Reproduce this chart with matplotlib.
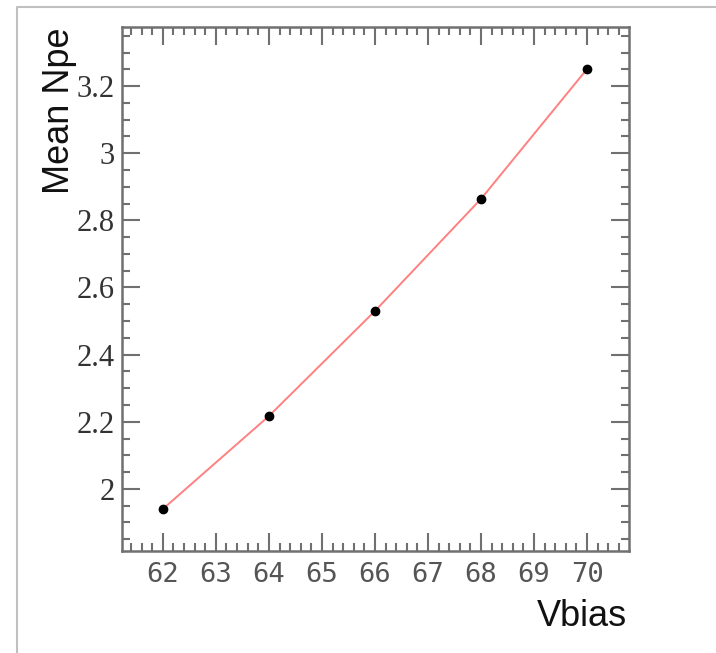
import matplotlib.pyplot as plt
from matplotlib.lines import Line2D
from matplotlib.ticker import MultipleLocator

# bias voltage scan and mean photoelectron count
vbias = [62, 64, 66, 68, 70]
mean_npe = [1.940, 2.217, 2.530, 2.864, 3.251]
xticks = [62, 63, 64, 65, 66, 67, 68, 69, 70]
yticks = [2.0, 2.2, 2.4, 2.6, 2.8, 3.0, 3.2]
ytick_labels = ["2", "2.2", "2.4", "2.6", "2.8", "3", "3.2"]

fig = plt.figure(figsize=(7.16, 6.53), dpi=100)
ax = fig.add_axes([122 / 716, 1 - 551 / 653, (629 - 122) / 716, (551 - 27) / 653])

# thin page border along the top and left
fig.add_artist(Line2D([17 / 716, 17 / 716, 1.0], [0.0, 1 - 7 / 653, 1 - 7 / 653],
                      transform=fig.transFigure, color="#c0c0c0", lw=1.5))

ax.plot(vbias, mean_npe, color="#ff8080", lw=1.4, zorder=2)
ax.plot(vbias, mean_npe, "o", color="black", ms=6, zorder=3)

ax.set_xlim(61.23, 70.79)
ax.set_ylim(1.815, 3.376)

ax.xaxis.set_minor_locator(MultipleLocator(0.2))
ax.yaxis.set_minor_locator(MultipleLocator(0.05))

for side in ax.spines.values():
    side.set_color("#707070")
    side.set_linewidth(1.8)

ax.tick_params(which="both", direction="in", top=True, right=True,
               color="#707070", width=1.5)
ax.tick_params(which="major", length=13)
ax.tick_params(which="minor", length=6)
ax.tick_params(axis="x", which="major", pad=8)
ax.tick_params(axis="y", which="major", pad=5)

ax.set_xticks(xticks)
ax.set_xticklabels([str(v) for v in xticks],
                   family="DejaVu Sans Mono", fontsize=19.5, color="#555555")
ax.set_yticks(yticks)
ax.set_yticklabels(ytick_labels,
                   family="Liberation Serif", fontsize=22, color="#333333")

fig.text(627 / 716, 1 - 617 / 653, "Vbias", ha="right", va="center",
         family="Liberation Sans", fontsize=26, color="#111111")
fig.text(60 / 716, 1 - 28 / 653, "Mean Npe", ha="center", va="top", rotation=90,
         family="Liberation Sans", fontsize=26, color="#111111")

fig.savefig("out.png", dpi=100)
